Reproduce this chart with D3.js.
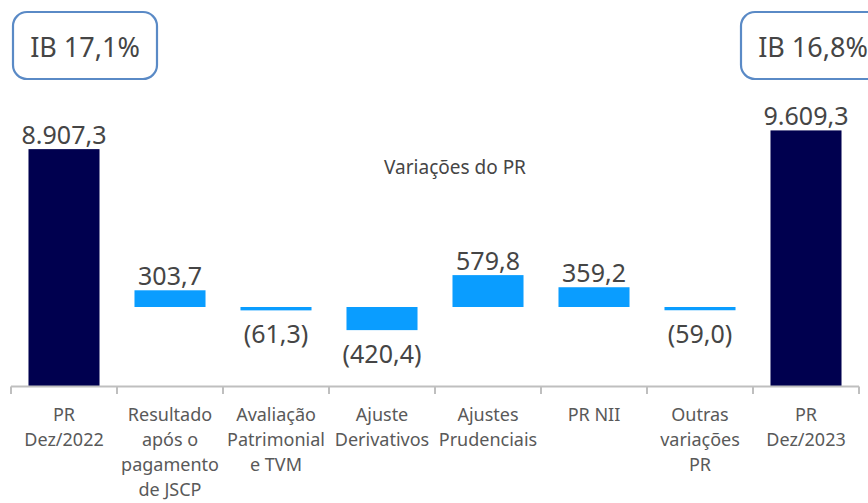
<!DOCTYPE html>
<html>
<head>
<meta charset="utf-8">
<title>Variações do PR</title>
<script src="https://d3js.org/d3.v7.min.js"></script>
<style>
  body { margin: 0; background: #fff; }
  text { font-family: "Noto Sans", sans-serif; }
</style>
</head>
<body>
<div id="chart"></div>
<script>
// categories (wrapped label lines)
var categories = [
  ["PR", "Dez/2022"],
  ["Resultado", "após o", "pagamento", "de JSCP"],
  ["Avaliação", "Patrimonial", "e TVM"],
  ["Ajuste", "Derivativos"],
  ["Ajustes", "Prudenciais"],
  ["PR NII"],
  ["Outras", "variações", "PR"],
  ["PR", "Dez/2023"]
];
var kinds = ["total", "var", "var", "var", "var", "var", "var", "total"];
var values = [8907.3, 303.7, -61.3, -420.4, 579.8, 359.2, -59.0, 9609.3];
var valueLabels = ["8.907,3", "303,7", "(61,3)", "(420,4)", "579,8", "359,2", "(59,0)", "9.609,3"];
var ibLabels = ["IB 17,1%", "IB 16,8%"];
var subTitle = "Variações do PR";

var W = 868, H = 503;
var svg = d3.select("#chart").append("svg")
  .attr("width", W).attr("height", H);

var x = d3.scaleBand()
  .domain(d3.range(categories.length))
  .range([11, 859])
  .paddingInner(0.33)
  .paddingOuter(0.165);

// totals on their own scale; variations on a zoomed scale around a floating baseline
var yTot = d3.scaleLinear().domain([0, 10000]).range([386.5, 120]);
var yVar = d3.scaleLinear().domain([0, 1000]).range([307, 252]);

var data = values.map(function(v, i) {
  return { i: i, v: v, kind: kinds[i], label: valueLabels[i] };
});

function barTop(d) {
  if (d.kind === "total") return yTot(d.v);
  return Math.min(yVar(0), yVar(d.v));
}
function barBottom(d) {
  if (d.kind === "total") return yTot(0);
  return Math.max(yVar(0), yVar(d.v));
}

svg.selectAll("rect.bar")
  .data(data)
  .enter().append("rect")
  .attr("class", "bar")
  .attr("x", function(d) { return x(d.i); })
  .attr("width", x.bandwidth())
  .attr("y", barTop)
  .attr("height", function(d) { return Math.max(2.5, barBottom(d) - barTop(d)); })
  .attr("fill", function(d) { return d.kind === "total" ? "#00004f" : "#0a9dff"; });

// value labels
svg.selectAll("text.val")
  .data(data)
  .enter().append("text")
  .attr("class", "val")
  .attr("x", function(d) { return x(d.i) + x.bandwidth() / 2; })
  .attr("y", function(d) {
    if (d.kind === "var" && d.v < 0) return barBottom(d) + 33;
    return barTop(d) - 5;
  })
  .attr("text-anchor", "middle")
  .attr("font-size", 25)
  .attr("fill", "#454545")
  .text(function(d) { return d.label; });

// x axis
var step = x.step();
var axisG = svg.append("g");
axisG.append("line")
  .attr("x1", 11).attr("x2", 859)
  .attr("y1", 386.5).attr("y2", 386.5)
  .attr("stroke", "#bfbfbf").attr("stroke-width", 2);
axisG.selectAll("line.tick")
  .data(d3.range(categories.length + 1))
  .enter().append("line")
  .attr("class", "tick")
  .attr("x1", function(i) { return 11 + i * step; })
  .attr("x2", function(i) { return 11 + i * step; })
  .attr("y1", 386.5).attr("y2", 394)
  .attr("stroke", "#bfbfbf").attr("stroke-width", 2);

var cat = axisG.selectAll("text.cat")
  .data(categories)
  .enter().append("text")
  .attr("class", "cat")
  .attr("text-anchor", "middle")
  .attr("font-size", 18)
  .attr("fill", "#595959")
  .attr("transform", function(d, i) { return "translate(" + (x(i) + x.bandwidth() / 2) + ",421)"; });
cat.selectAll("tspan")
  .data(function(d) { return d; })
  .enter().append("tspan")
  .attr("x", 0)
  .attr("y", function(d, j) { return j * 25; })
  .text(function(d) { return d; });

// subtitle
svg.append("text")
  .attr("x", 455).attr("y", 174)
  .attr("text-anchor", "middle")
  .attr("font-size", 19)
  .attr("fill", "#454545")
  .text(subTitle);

// IB boxes
[85, 813].forEach(function(cx, k) {
  svg.append("rect")
    .attr("x", cx - 72).attr("y", 12)
    .attr("width", 144).attr("height", 67)
    .attr("rx", 14).attr("ry", 14)
    .attr("fill", "#fff")
    .attr("stroke", "#5a8ac6").attr("stroke-width", 2.2);
  svg.append("text")
    .attr("x", cx).attr("y", 57)
    .attr("text-anchor", "middle")
    .attr("font-size", 27)
    .attr("fill", "#454545")
    .text(ibLabels[k]);
});
</script>
</body>
</html>
